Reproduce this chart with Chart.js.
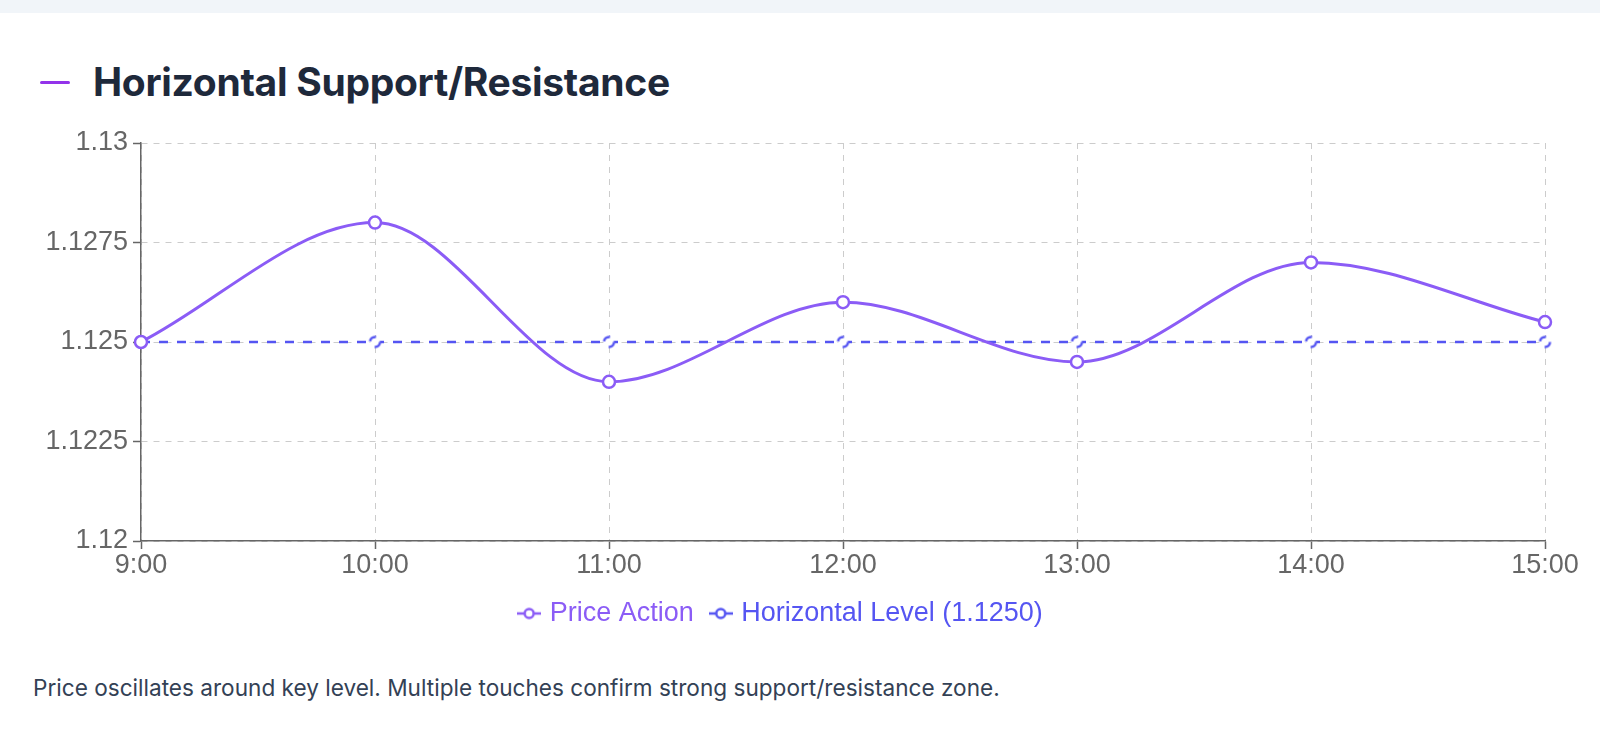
<!DOCTYPE html>
<html>
<head>
<meta charset="utf-8">
<script src="https://cdn.jsdelivr.net/npm/chart.js@4.4.1/dist/chart.umd.min.js"></script>
<style>
  html, body { margin: 0; padding: 0; background: #ffffff; width: 1600px; height: 752px; overflow: hidden; }
  #strip { position: absolute; left: 0; top: 0; width: 1600px; height: 13px; background: #f1f5f9; }
  #bar { position: absolute; left: 40px; top: 81px; width: 30px; height: 3px; background: #9333ea; border-radius: 2px; }
  #title { position: absolute; left: 93px; top: 59px; font-family: Inter, "Noto Sans", sans-serif; font-weight: 700; font-size: 39px; line-height: 46px; color: #1e293b; letter-spacing: -0.3px; white-space: nowrap; }
  #wrap { position: absolute; left: 0; top: 110px; width: 1600px; height: 527px; }
  #caption { position: absolute; left: 33px; top: 673px; font-family: Inter, "Noto Sans", sans-serif; font-size: 22.6px; line-height: 30px; color: #334155; white-space: nowrap; }
</style>
</head>
<body>
<div id="strip"></div>
<div id="bar"></div>
<div id="title">Horizontal Support/Resistance</div>
<div id="wrap"><canvas id="c"></canvas></div>
<div id="caption">Price oscillates around key level. Multiple touches confirm strong support/resistance zone.</div>
<script>
const timeLabels = ['9:00', '10:00', '11:00', '12:00', '13:00', '14:00', '15:00'];
const priceAction = [1.125, 1.128, 1.124, 1.126, 1.1245, 1.127, 1.1255];
const horizontalLevel = [1.125, 1.125, 1.125, 1.125, 1.125, 1.125, 1.125];
const yTickValues = [1.12, 1.1225, 1.125, 1.1275, 1.13];
const seriesNames = ['Price Action', 'Horizontal Level (1.1250)'];

const PRICE_COLOR = '#8b5cf6';
const LEVEL_COLOR = '#5555f2';
const CHART_FONT = '"Liberation Sans", Arial, sans-serif';
const FONT_SIZE = 27;

function dashedCircle(color, r, lw, dash) {
  const s = Math.ceil((r + lw) * 2) + 2;
  const cv = document.createElement('canvas');
  cv.width = s; cv.height = s;
  const ctx = cv.getContext('2d');
  ctx.beginPath();
  ctx.arc(s / 2, s / 2, r, 0, Math.PI * 2);
  ctx.fillStyle = '#ffffff';
  ctx.fill();
  ctx.setLineDash(dash);
  ctx.lineWidth = lw;
  ctx.strokeStyle = color;
  ctx.stroke();
  return cv;
}

function legendIcon(color) {
  const w = 24, h = 14;
  const cv = document.createElement('canvas');
  cv.width = w; cv.height = h;
  const ctx = cv.getContext('2d');
  ctx.strokeStyle = color;
  ctx.lineWidth = 2.5;
  ctx.beginPath();
  ctx.moveTo(0, h / 2); ctx.lineTo(w, h / 2);
  ctx.stroke();
  ctx.beginPath();
  ctx.arc(w / 2, h / 2, 4.5, 0, Math.PI * 2);
  ctx.fillStyle = '#ffffff';
  ctx.fill();
  ctx.stroke();
  return cv;
}

const levelPoint = dashedCircle(LEVEL_COLOR, 5, 2.5, [8, 8]);
const icons = [legendIcon(PRICE_COLOR), legendIcon(LEVEL_COLOR)];
const fontColors = [PRICE_COLOR, LEVEL_COLOR];

new Chart(document.getElementById('c'), {
  type: 'line',
  data: {
    labels: timeLabels,
    datasets: [
      {
        label: seriesNames[0],
        data: priceAction,
        borderColor: PRICE_COLOR,
        backgroundColor: '#ffffff',
        borderWidth: 3,
        cubicInterpolationMode: 'monotone',
        pointRadius: 6,
        pointBorderWidth: 2.5,
        pointBackgroundColor: '#ffffff',
        pointBorderColor: PRICE_COLOR,
        pointHoverRadius: 6,
        fill: false
      },
      {
        label: seriesNames[1],
        data: horizontalLevel,
        borderColor: LEVEL_COLOR,
        backgroundColor: '#ffffff',
        borderWidth: 2.5,
        borderDash: [9, 9],
        pointStyle: levelPoint,
        pointRadius: 6,
        fill: false
      }
    ]
  },
  options: {
    responsive: true,
    maintainAspectRatio: false,
    animation: false,
    events: [],
    layout: { padding: { top: 33, left: 20, right: 55, bottom: 0 } },
    scales: {
      x: {
        offset: false,
        grid: { color: '#cccccc', lineWidth: 1, tickLength: 8, tickColor: '#666666', tickWidth: 1.5, tickBorderDash: [] },
        border: { display: true, color: '#666666', width: 1.5, dash: [6, 6] },
        ticks: { color: '#666666', font: { family: CHART_FONT, size: FONT_SIZE }, padding: 0, maxRotation: 0, autoSkip: false },
        afterFit: (scale) => { scale.height = 39; }
      },
      y: {
        min: 1.12,
        max: 1.13,
        grid: { color: '#cccccc', lineWidth: 1, tickLength: 8, tickColor: '#666666', tickWidth: 1.5, tickBorderDash: [] },
        border: { display: true, color: '#666666', width: 1.5, dash: [6, 6] },
        ticks: {
          color: '#666666',
          font: { family: CHART_FONT, size: FONT_SIZE },
          padding: 5,
          callback: (v) => String(parseFloat(Number(v).toFixed(4)))
        },
        afterBuildTicks: (scale) => { scale.ticks = yTickValues.map(v => ({ value: v })); },
        afterFit: (scale) => { scale.width = 121; }
      }
    },
    plugins: {
      title: { display: false },
      tooltip: { enabled: false },
      legend: {
        position: 'bottom',
        labels: {
          usePointStyle: true,
          pointStyleWidth: 14,
          boxHeight: 14,
          padding: 20,
          font: { family: CHART_FONT, size: FONT_SIZE },
          generateLabels: (chart) => chart.data.datasets.map((ds, i) => ({
            text: ds.label,
            fillStyle: '#ffffff',
            strokeStyle: fontColors[i],
            fontColor: fontColors[i],
            pointStyle: icons[i],
            lineWidth: 0,
            hidden: false,
            datasetIndex: i
          }))
        }
      }
    }
  }
});
</script>
</body>
</html>
